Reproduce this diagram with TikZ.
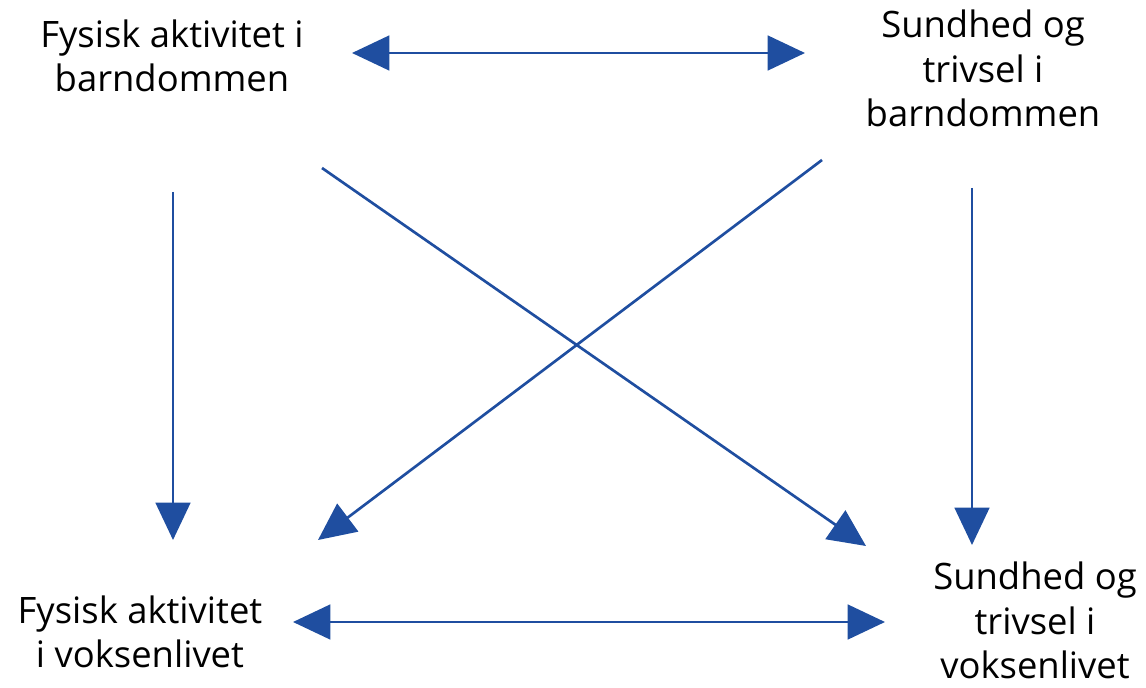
\documentclass[tikz,border=0pt]{standalone}
\usepackage{xcolor}
\usepackage{fontspec}
\setmainfont{Open Sans}
\usetikzlibrary{arrows.meta}
\definecolor{arrowblue}{RGB}{31,78,160}

\begin{document}
\begin{tikzpicture}[x=.75pt,y=-.75pt,
  lbl/.style={align=center,inner sep=0pt,font=\fontsize{27.3pt}{33.5pt}\selectfont},
  link/.style={arrowblue,line width=2pt,-{Triangle[length=28pt,width=26pt]}},
  both/.style={link,{Triangle[length=28pt,width=26pt]}-{Triangle[length=28pt,width=26pt]}}]
\useasboundingbox (0,0) rectangle (1146,688);
\node[lbl] (tl) at (172,56) {Fysisk aktivitet i\\barndommen};
\node[lbl] (tr) at (983,68.5) {Sundhed og\\trivsel i\\barndommen};
\node[lbl] (bl) at (140,632) {Fysisk aktivitet\\i voksenlivet};
\node[lbl] (br) at (1035,620.5) {Sundhed og\\trivsel i\\voksenlivet};
\draw[both] ([shift={(180,-3)}]tl.center) -- ([shift={(-178,-15.5)}]tr.center);
\draw[both] ([shift={(153,-10)}]bl.center) -- ([shift={(-150,1.5)}]br.center);
\draw[link] ([shift={(1,136)}]tl.center) -- ([shift={(33,-92)}]bl.center);
\draw[link] ([shift={(-11,119.5)}]tr.center) -- ([shift={(-63,-75.5)}]br.center);
\draw[link] ([shift={(150,112)}]tl.center) -- ([shift={(-169,-74.5)}]br.center);
\draw[link] ([shift={(-161,91.5)}]tr.center) -- ([shift={(178,-92)}]bl.center);
\end{tikzpicture}
\end{document}
